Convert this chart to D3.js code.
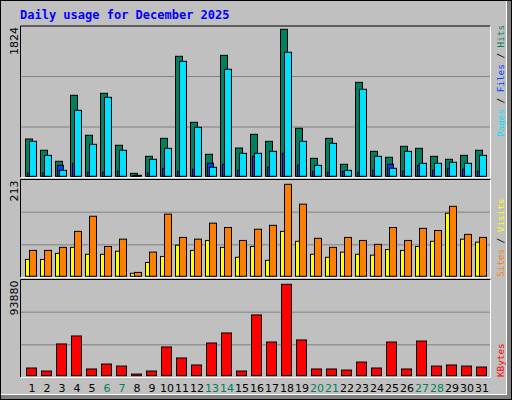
<!DOCTYPE html>
<html><head><meta charset="utf-8">
<script src="https://cdn.jsdelivr.net/npm/d3@7"></script>
<style>body{margin:0;background:#fff}</style></head>
<body><svg id="c" width="512" height="400"></svg>
<script>
const days = d3.range(1, 32).map(String);
const weekend = ["6","7","13","14","20","21","27","28"];
const hits = [463,323,186,1005,509,1030,385,37,248,471,1489,670,273,1501,351,521,434,1824,596,223,471,149,1166,310,236,372,347,248,211,260,323];
const files = [434,260,74,819,397,980,323,12,211,347,1427,608,112,1328,285,285,310,1539,434,136,409,74,1080,248,99,310,161,161,174,161,260];
const pages = [41,41,136,161,50,50,62,5,41,99,62,87,161,149,74,248,112,285,136,62,50,62,50,74,149,62,136,74,99,87,62];
const sites = [60,60,67,104,139,69,86,9,56,144,90,86,123,113,83,109,118,213,167,88,67,90,83,74,113,83,111,106,162,97,90];
const visits = [39,39,53,67,51,51,58,7,32,46,72,60,83,67,44,69,37,104,81,51,44,56,51,49,62,60,69,81,146,86,79];
const kbytes = [7900,4800,32600,40800,6900,12000,9900,1700,4800,29500,18200,11000,33600,43900,4800,62400,34600,93880,36700,6900,6900,5800,14000,7900,34600,6900,35600,9900,11000,9900,8900];
const maxLabels = ["1824","213","93880"];

const svg = d3.select("#c");
svg.append("rect").attr("width",512).attr("height",400).attr("fill","#c0c0c0");
svg.append("rect").attr("x",507).attr("y",0).attr("width",5).attr("height",400).attr("fill","#808080");
svg.append("rect").attr("x",0).attr("y",395).attr("width",512).attr("height",5).attr("fill","#808080");
svg.append("rect").attr("x",0.5).attr("y",0.5).attr("width",506).attr("height",394).attr("fill","none").attr("stroke","#fff");
svg.append("rect").attr("x",0.5).attr("y",0.5).attr("width",511).attr("height",399).attr("fill","none").attr("stroke","#000");

svg.append("text").attr("x",20).attr("y",19).text("Daily usage for December 2025")
  .attr("font-family","DejaVu Sans Mono").attr("font-weight","bold").attr("font-size",12).attr("fill","#0000ff");

const x = d3.scaleBand().domain(days).range([20,485]);
const panels = [
  {top:26, bot:177.5, base:176.3, maxY:29.3, max:1824},
  {top:179.5, bot:277.5, base:276.3, maxY:184.3, max:213},
  {top:279.5, bot:377.5, base:375.7, maxY:284.3, max:93880}
];
const ys = panels.map(p => d3.scaleLinear().domain([0,p.max]).range([p.base,p.maxY]));

panels.forEach((p,i) => {
  const h = p.bot - p.top;
  [1,2].forEach(k => svg.append("line").attr("x1",21).attr("x2",490).attr("y1",p.top+h*k/3).attr("y2",p.top+h*k/3).attr("stroke","#808080"));
  svg.append("path").attr("d",`M20.5,${p.bot}V${p.top}H490.5`).attr("stroke","#000").attr("fill","none");
  svg.append("path").attr("d",`M20.5,${p.bot}H490.5V${p.top}`).attr("stroke","#fff").attr("fill","none");
  svg.append("text").attr("transform",`translate(18,${p.top+1}) rotate(-90)`).attr("text-anchor","end")
    .attr("font-family","DejaVu Sans").attr("font-size",11).attr("fill","#000").text(maxLabels[i]);
});

function bars(data, y, off, w, color){
  svg.append("g").selectAll("rect").data(data).join("rect")
    .attr("x",(d,i)=>x(days[i])+off+0.5).attr("y",d=>y(d)).attr("width",w)
    .attr("height",d=>Math.max(0,y(0)-y(d))).attr("fill",color).attr("stroke","#000").attr("stroke-width",1);
}
bars(hits, ys[0], 5, 7, "#008060");
bars(pages, ys[0], 7, 6, "#0040ff");
bars(files, ys[0], 9, 7, "#00e0ff");
bars(visits, ys[1], 5, 4, "#ffff00");
bars(sites, ys[1], 9, 7, "#ff8000");
bars(kbytes, ys[2], 6, 10, "#ff0000");

svg.append("g").selectAll("text").data(days).join("text")
  .attr("x",d=>x(d)+12).attr("y",392).attr("text-anchor","middle")
  .attr("font-family","DejaVu Sans").attr("font-size",11)
  .attr("fill",d=>weekend.includes(d)?"#008060":"#000").text(d=>d);

function vlabel(yBottom, parts){
  const t = svg.append("text").attr("transform",`translate(504,${yBottom}) rotate(-90)`)
    .attr("font-family","DejaVu Sans Mono").attr("font-size",9.3);
  parts.forEach(([s,c])=>t.append("tspan").attr("fill",c).text(s));
}
vlabel(137,[["Pages","#00e0ff"],[" / ","#000"],["Files","#0040ff"],[" / ","#000"],["Hits","#008060"]]);
vlabel(277,[["Sites","#ff8000"],[" / ","#000"],["Visits","#ffff00"]]);
vlabel(377,[["KBytes","#ff0000"]]);
</script></body></html>
